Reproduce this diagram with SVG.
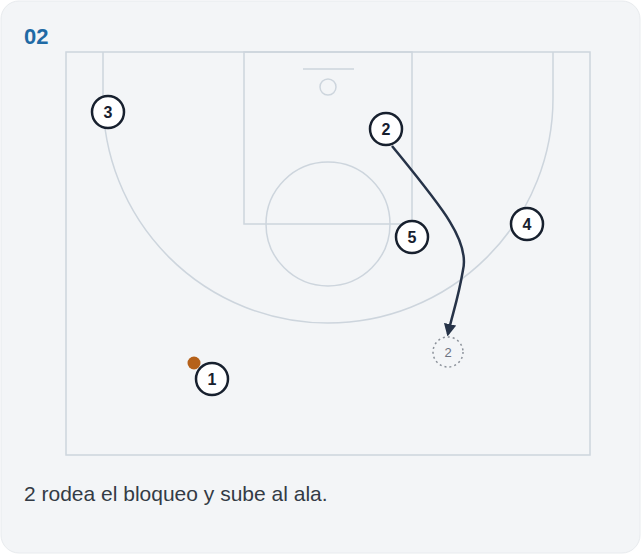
<svg xmlns="http://www.w3.org/2000/svg" width="641" height="554" viewBox="0 0 641 554">
<defs>
<style>
.court{fill:none;stroke:#cdd5dd;stroke-width:1.5}
.player circle{fill:#ffffff;stroke:#17202e;stroke-width:2.5}
.player text{font-family:"Liberation Sans",Arial,sans-serif;font-size:16px;font-weight:bold;fill:#17202e;text-anchor:middle}
.ghost circle{fill:none;stroke:#8a9099;stroke-width:1.5;stroke-dasharray:2 3}
.ghost text{font-family:"Liberation Sans",Arial,sans-serif;font-size:13px;fill:#6b7280;text-anchor:middle}
.move{fill:none;stroke:#263348;stroke-width:2.5}
</style>
<marker id="arrow" viewBox="0 0 10 10" refX="8" refY="5" markerWidth="5" markerHeight="5" orient="auto" markerUnits="strokeWidth">
<path d="M0,0 L10,5 L0,10 z" fill="#263348"/>
</marker>
</defs>
<rect x="1" y="1" width="639" height="552" rx="18" fill="#f3f5f7" stroke="#e8ebee"/>
<text x="24" y="44" font-family="Liberation Sans,Arial,sans-serif" font-size="22" font-weight="bold" fill="#1f6aa5">02</text>
<g id="court">
<rect class="court" x="66" y="52" width="524" height="403"/>
<rect class="court" x="244" y="52" width="168" height="172"/>
<circle class="court" cx="328" cy="224" r="62"/>
<line class="court" x1="303" y1="69" x2="354" y2="69"/>
<circle class="court" cx="328" cy="87" r="8"/>
<path class="court" d="M103 52 L103 98 A225 225 0 0 0 553 98 L553 52"/>
</g>
<g id="connectors">
<path class="move" d="M392 146 C440 205, 470 240, 463 270 C458 300, 452 315, 448 334" marker-end="url(#arrow)"/>
</g>
<g id="ghost2" class="ghost"><circle cx="448" cy="352" r="15"/><text x="448" y="357">2</text></g>
<g id="ball"><circle cx="194" cy="363" r="6.5" fill="#b5611a"/></g>
<g id="p3" class="player"><circle cx="108" cy="112" r="16"/><text x="108" y="118">3</text></g>
<g id="p2" class="player"><circle cx="386" cy="129" r="16"/><text x="386" y="135">2</text></g>
<g id="p5" class="player"><circle cx="412" cy="237" r="16"/><text x="412" y="243">5</text></g>
<g id="p4" class="player"><circle cx="527" cy="224" r="16"/><text x="527" y="230">4</text></g>
<g id="p1" class="player"><circle cx="212" cy="379" r="16"/><text x="212" y="385">1</text></g>
<text x="24" y="501" font-family="Liberation Sans,Arial,sans-serif" font-size="21" fill="#333b45">2 rodea el bloqueo y sube al ala.</text>
</svg>
